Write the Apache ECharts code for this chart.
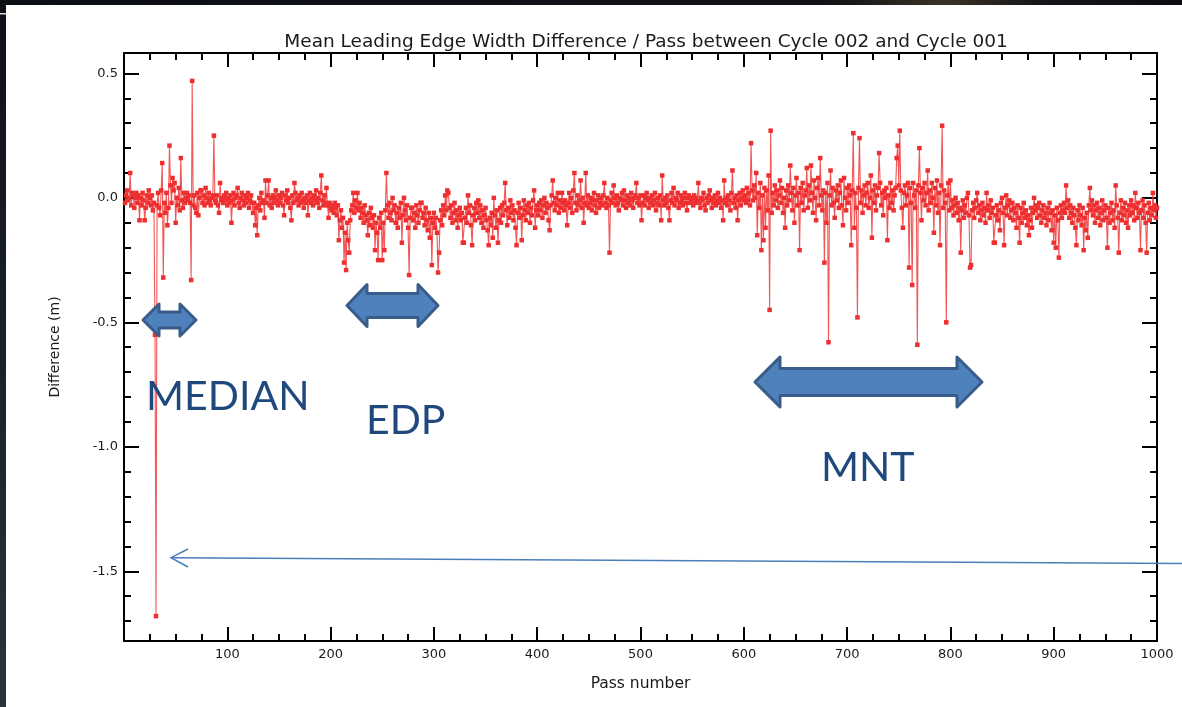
<!DOCTYPE html>
<html>
<head>
<meta charset="utf-8">
<title>Mean Leading Edge Width Difference</title>
<script src="https://cdn.jsdelivr.net/npm/echarts@6/dist/echarts.min.js"></script>
<style>
  html, body { margin: 0; padding: 0; background: #ffffff; }
  #chart { width: 1182px; height: 707px; }
</style>
</head>
<body>
<div id="chart"></div>
<script>
// Leading edge width difference per pass (cycle 002 minus cycle 001), in centimetres.
// Entry i belongs to pass number i + 1.
const diffCm = [
  -2,1,3,-1,0,10,-3,2,1,-4,0,2,-2,1,-9,0,-3,2,-1,-9,-4,1,-2,3,0,
  -3,1,-5,-2,-55,-168,-3,2,-4,-7,3,14,-32,-2,-6,2,-11,-4,21,5,-2,8,3,6,-10,
  0,-3,4,-5,16,-1,-4,2,-2,0,2,-1,1,-2,-33,47,-3,1,-4,-6,2,-7,0,3,3,
  -2,1,-3,4,0,-2,2,-1,-3,0,1,25,-1,-2,1,-3,-6,6,-1,0,-2,1,-1,2,-3,
  0,-2,1,-10,-1,2,-3,0,1,4,-2,-4,0,2,-1,-3,1,-2,0,2,-4,-1,1,-2,-6,
  -2,-11,-4,-15,-3,0,-5,2,-2,-1,-8,7,-2,1,7,-3,0,-4,1,-2,0,3,-1,-3,1,
  -2,0,2,-3,-7,1,-1,3,-2,0,-4,-9,1,-2,6,2,-1,0,-3,1,-2,2,-1,-4,0,
  -2,1,-7,-1,2,-2,0,-3,1,-1,3,-2,0,-4,2,9,-1,-3,1,-2,4,-3,-8,-2,-4,
  -5,-3,-6,-2,-4,-7,-3,-17,-9,-5,-12,-8,-26,-14,-29,-10,-17,-22,-9,-5,-3,2,-6,-1,-4,
  2,-5,-2,-8,-4,-6,-10,-3,-7,-9,-15,-6,-11,-4,-8,-12,-7,-21,-10,-14,-25,-8,-12,-6,-25,
  -10,-21,-5,10,-3,-8,-2,-6,-9,0,-5,-3,-10,-6,-12,-4,-8,-2,-18,-7,0,-5,-9,-3,-12,
  -31,-8,-4,-4,-9,-6,-12,-3,-7,-10,-5,-2,-2,-8,-6,-11,-4,-9,-13,-6,-16,-8,-27,-10,-6,
  -12,-8,-14,-30,-22,-9,-5,-11,-3,-7,1,-5,3,2,-4,-8,-3,-10,-6,-2,-9,-5,-12,-7,-4,
  -9,-6,-18,-18,-8,-4,-10,1,-6,-3,-11,-19,-7,-4,-9,-2,-6,-1,-8,-3,-10,-5,-12,-7,-4,
  -9,-13,-19,-8,-11,-6,-16,0,-7,-12,-5,-18,-9,-4,-10,-3,-7,-2,6,-5,-11,-4,-8,-1,-6,
  -3,-9,-5,-12,-19,-6,-2,-8,-4,-17,-7,-1,-5,-9,-3,-6,-2,-10,-4,-7,-1,3,-12,-5,-3,
  -7,-2,-5,-1,-8,-3,0,-6,-2,-4,-9,-13,-3,1,7,-2,-5,0,-3,2,-6,-1,-4,2,-2,
  -5,-1,-3,-11,-2,2,-4,0,-6,3,10,-2,-5,1,-3,-1,7,-4,0,-10,-2,10,-3,1,-4,
  -2,0,-5,-1,2,-3,-6,-1,1,-4,-2,0,-3,1,6,-2,-4,0,-3,-22,-1,2,-2,5,0,
  -3,1,-2,-5,0,-1,2,-3,3,-1,-4,1,-2,0,-3,2,-1,-4,0,1,6,-2,0,-3,1,
  -9,-2,1,-3,0,2,-1,-4,0,-2,1,-3,-1,2,-5,-2,0,-3,1,-9,9,-1,-3,0,-2,
  1,-4,-9,-1,2,-2,4,-3,0,-1,2,-4,-2,1,-1,-3,0,2,-2,-5,0,1,-2,-1,0,
  -3,1,-2,0,-1,6,-2,-4,0,-1,2,-3,-5,0,-2,1,3,-1,-4,0,-2,1,-3,-1,2,
  -2,0,-4,-1,-9,7,-2,0,-3,1,-1,-5,2,11,-2,0,-4,1,-9,-1,2,-3,0,3,-1,
  1,-2,4,-1,2,-3,22,3,-1,5,0,10,-15,2,-4,6,-21,1,-17,4,-12,3,-5,9,-45,
  27,-6,2,-3,5,-1,3,-4,1,7,-2,4,-6,0,-12,3,-3,5,-1,13,2,-5,4,-10,1,
  8,-3,2,-21,4,-2,6,-5,1,3,12,-4,5,-1,13,2,-6,7,0,-9,4,8,-3,16,1,
  -5,3,-26,2,-10,6,-58,1,11,-3,4,-2,-8,3,-1,5,-4,2,7,-3,-11,8,0,-5,4,
  -2,5,1,-19,3,26,-12,2,-4,-48,4,24,-2,3,-6,1,5,-3,2,6,-4,0,9,-16,3,
  -2,5,-5,1,4,18,6,-3,2,-7,3,0,4,-17,1,-4,6,-2,3,-5,1,4,16,21,5,
  27,3,-4,-12,2,5,-3,1,6,-28,4,-2,-35,6,1,-4,3,-59,5,20,2,-9,4,-1,6,
  -3,2,11,-5,3,-2,6,0,-14,4,-3,7,-6,2,-19,5,29,-4,3,-2,-50,1,6,-5,7,
  -4,-1,-7,-3,0,-6,-2,-9,-4,-22,-5,-1,-8,-3,-6,0,2,-7,-28,-27,-5,-2,-8,-4,-1,
  2,-6,-3,-9,-5,-2,-7,-4,-10,2,-5,-3,-8,-1,-6,-4,-18,-18,-7,-3,-9,-5,-13,-2,0,
  -6,-19,-4,1,-7,-3,-1,-8,-5,-2,-9,-4,-6,-12,-3,-8,-18,-4,-10,-6,-2,-8,-5,-11,-7,
  -15,-9,-4,-12,-6,0,-5,-3,-8,-4,-2,-7,-10,-5,-3,-8,-6,-11,-4,-9,-2,-6,-13,-5,-18,
  -7,-20,-4,-9,-24,-6,-3,-8,-5,-2,-6,5,-4,-1,-8,-3,-6,-10,-4,-7,-12,-19,-5,-9,-3,
  -7,-11,-4,-21,-8,-13,-6,-16,-3,4,-5,-1,-7,-3,-10,-5,-2,-8,-4,-11,-6,-1,-9,-5,-3,
  -8,-20,-4,-10,-6,-2,-9,-5,-12,5,-3,-8,-22,-6,-1,-9,-4,-7,-2,-10,-5,-12,-3,-7,-1,
  -6,-3,-9,2,-4,-8,-2,-6,-21,-5,-1,-8,-3,-10,-22,-6,-2,-9,-4,-7,2,-5,-3,-8,-4
];

// Tick positions
const xMajorTicks = [100, 200, 300, 400, 500, 600, 700, 800, 900, 1000];
const xMinorTicks = [25,50,75,125,150,175,225,250,275,325,350,375,425,450,475,525,550,575,
                     625,650,675,725,750,775,825,850,875,925,950,975];
const yMajorTicks = [-1.5, -1.0, -0.5, 0.0, 0.5];
const yMinorTicks = [-1.7,-1.6,-1.4,-1.3,-1.2,-1.1,-0.9,-0.8,-0.7,-0.6,-0.4,-0.3,-0.2,-0.1,0.1,0.2,0.3,0.4];

const X_MIN = 0, X_MAX = 1000;
const Y_MIN = -1.78, Y_MAX = 0.582;

const seriesData = diffCm.map((v, i) => [i + 1, v / 100]);

const FONT = 'DejaVu Sans';
const INK = '#1a1a1a';

function xAxisDef(position, ticks, len, withLabels) {
  return {
    type: 'value', position: position, min: X_MIN, max: X_MAX,
    axisLine: { show: len > 10, onZero: false, lineStyle: { color: '#000', width: 2 } },
    axisTick: { show: true, inside: true, length: len, customValues: ticks,
                lineStyle: { color: '#000', width: 2 } },
    axisLabel: withLabels
      ? { show: true, customValues: ticks, margin: 7, fontFamily: FONT, fontSize: 13, color: INK,
          formatter: v => String(Math.round(v)) }
      : { show: false },
    splitLine: { show: false }
  };
}
function yAxisDef(position, ticks, len, withLabels) {
  return {
    type: 'value', position: position, min: Y_MIN, max: Y_MAX,
    axisLine: { show: len > 10, onZero: false, lineStyle: { color: '#000', width: 2 } },
    axisTick: { show: true, inside: true, length: len, customValues: ticks,
                lineStyle: { color: '#000', width: 2 } },
    axisLabel: withLabels
      ? { show: true, customValues: ticks, margin: 6, fontFamily: FONT, fontSize: 13, color: INK,
          formatter: v => v.toFixed(1) }
      : { show: false },
    splitLine: { show: false }
  };
}

const xAxes = [
  Object.assign(xAxisDef('bottom', xMajorTicks, 14, true), {
    name: 'Pass number', nameLocation: 'middle', nameGap: 35,
    nameTextStyle: { fontFamily: FONT, fontSize: 15.5, color: INK }
  }),
  xAxisDef('bottom', xMinorTicks, 7, false),
  xAxisDef('top', xMajorTicks, 14, false),
  xAxisDef('top', xMinorTicks, 7, false)
];
const yAxes = [
  Object.assign(yAxisDef('left', yMajorTicks, 15, true), {
    name: 'Difference (m)', nameLocation: 'middle', nameGap: 62, nameRotate: 90,
    nameTextStyle: { fontFamily: FONT, fontSize: 14, color: INK }
  }),
  yAxisDef('left', yMinorTicks, 7, false),
  yAxisDef('right', yMajorTicks, 15, false),
  yAxisDef('right', yMinorTicks, 7, false)
];

// Double-headed block arrow outline
function doubleArrow(x1, x2, cy, hb1, hb2, hh, sh) {
  return {
    type: 'polygon', z: 100,
    shape: { points: [
      [x1, cy], [hb1, cy - hh], [hb1, cy - sh], [hb2, cy - sh], [hb2, cy - hh],
      [x2, cy], [hb2, cy + hh], [hb2, cy + sh], [hb1, cy + sh], [hb1, cy + hh]
    ] },
    style: { fill: '#4f81bd', stroke: '#385d8a', lineWidth: 3, lineJoin: 'round' }
  };
}
function bigLabel(text, x, y) {
  return {
    type: 'text', z: 100, x: x, y: y,
    style: { text: text, fill: '#1f497d', font: '41px Lato', verticalAlign: 'middle', align: 'left' }
  };
}

const option = {
  animation: false,
  backgroundColor: '#ffffff',
  title: {
    text: 'Mean Leading Edge Width Difference / Pass between Cycle 002 and Cycle 001',
    left: 641, top: 28, textAlign: 'center',
    textStyle: { fontFamily: FONT, fontSize: 18.5, fontWeight: 'normal', color: INK }
  },
  grid: { left: 124, right: 25, top: 53, bottom: 66, containLabel: false },
  xAxis: xAxes,
  yAxis: yAxes,
  series: [{
    type: 'line',
    xAxisIndex: 0, yAxisIndex: 0,
    data: seriesData,
    symbol: 'rect', symbolSize: 4.5, showSymbol: true,
    lineStyle: { color: '#ef3a3a', width: 1.1, opacity: 0.85 },
    itemStyle: { color: '#ee2f2f' },
    emphasis: { disabled: true },
    clip: true
  }],
  graphic: [
    // slide frame edges
    { type: 'rect', z: 200, shape: { x: 0, y: 0, width: 1182, height: 5 },
      style: { fill: new echarts.graphic.LinearGradient(0, 0, 1, 0, [
        { offset: 0, color: '#0b0e13' }, { offset: 0.7, color: '#101216' },
        { offset: 0.8, color: '#3a3226' }, { offset: 0.88, color: '#15151a' }, { offset: 1, color: '#0b0c10' }]) } },
    { type: 'rect', z: 200, shape: { x: 0, y: 0, width: 6, height: 707 },
      style: { fill: new echarts.graphic.LinearGradient(0, 0, 0, 1, [
        { offset: 0, color: '#0d1015' }, { offset: 1, color: '#2c333c' }]) } },
    { type: 'rect', z: 201, shape: { x: 0, y: 13, width: 6, height: 1.5 }, style: { fill: '#d8dadc' } },

    // section markers
    doubleArrow(143, 196, 320, 159, 180, 16, 8),
    doubleArrow(347, 438, 305.5, 367, 418, 21, 12),
    doubleArrow(755, 982, 382, 780, 957, 25, 13.5),
    bigLabel('MEDIAN', 146, 397),
    bigLabel('EDP', 366, 421),
    bigLabel('MNT', 821, 468),

    // pointer to the outlier
    { type: 'line', z: 100, shape: { x1: 1182, y1: 563.5, x2: 172, y2: 557.7 },
      style: { stroke: '#4a7ebb', lineWidth: 1.5 } },
    { type: 'polyline', z: 100, shape: { points: [[188, 549], [171, 557.7], [188, 567]] },
      style: { stroke: '#4a7ebb', lineWidth: 1.5, fill: null } }
  ]
};

const chart = echarts.init(document.getElementById('chart'), null, { renderer: 'canvas' });
chart.setOption(option);
</script>
</body>
</html>
